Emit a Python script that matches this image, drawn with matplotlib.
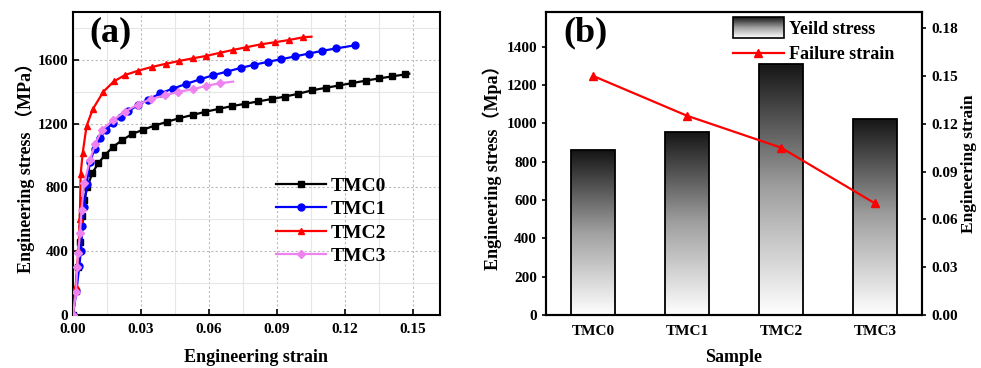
import numpy as np
import matplotlib
matplotlib.use("Agg")
import matplotlib.pyplot as plt
from matplotlib.colors import LinearSegmentedColormap
from matplotlib.legend_handler import HandlerBase
from matplotlib.image import BboxImage
from matplotlib.transforms import Bbox, TransformedBbox
from matplotlib.patches import Rectangle
from matplotlib.lines import Line2D
from matplotlib.ticker import MultipleLocator

plt.rcParams['font.family'] = ['Liberation Serif', 'Noto Sans CJK SC', 'DejaVu Sans']
plt.rcParams['font.weight'] = 'bold'

# ---- Panel (a) data: engineering stress-strain curves ----
tmc0_strain = [0, 0.0012, 0.002, 0.003, 0.004, 0.005, 0.0063, 0.0085, 0.0112, 0.0141, 0.0178, 0.0215,
               0.0259, 0.0307, 0.036, 0.0415, 0.047, 0.0528, 0.0585, 0.0643, 0.070, 0.0760, 0.0818,
               0.0877, 0.0935, 0.0995, 0.1057, 0.1115, 0.1175, 0.1233, 0.1292, 0.1350, 0.1410, 0.1468, 0.1485]
tmc0_stress = [0, 150, 300, 460, 620, 720, 800, 890, 952, 1004, 1056, 1095, 1134, 1161, 1188, 1212, 1235,
               1255, 1275, 1293, 1310, 1325, 1340, 1355, 1370, 1388, 1410, 1425, 1440, 1455, 1470, 1484,
               1497, 1510, 1514]

tmc1_strain = [0, 0.0015, 0.0028, 0.0035, 0.0042, 0.005, 0.006, 0.0075, 0.0095, 0.012, 0.0145, 0.0175,
               0.021, 0.0245, 0.0285, 0.033, 0.0385, 0.044, 0.050, 0.056, 0.062, 0.068, 0.074, 0.080,
               0.086, 0.092, 0.098, 0.104, 0.110, 0.116, 0.1245]
tmc1_stress = [0, 150, 310, 400, 560, 680, 820, 960, 1040, 1110, 1160, 1205, 1245, 1280, 1315, 1350, 1390,
               1420, 1450, 1478, 1505, 1527, 1550, 1570, 1588, 1605, 1622, 1640, 1657, 1672, 1692]

tmc2_strain = [0, 0.0012, 0.0024, 0.003, 0.0034, 0.0043, 0.006, 0.0087, 0.0134, 0.0180, 0.0229, 0.0288,
               0.0348, 0.041, 0.047, 0.0528, 0.0587, 0.0649, 0.0707, 0.0766, 0.0829, 0.0891, 0.0953,
               0.1016, 0.1053]
tmc2_stress = [0, 180, 410, 600, 885, 1018, 1186, 1290, 1401, 1465, 1505, 1533, 1556, 1576, 1594, 1610,
               1625, 1645, 1663, 1680, 1698, 1711, 1725, 1742, 1746]

tmc3_strain = [0, 0.0013, 0.0019, 0.0023, 0.0031, 0.0038, 0.0049, 0.0075, 0.0097, 0.0127, 0.0178, 0.0229,
               0.0285, 0.0345, 0.0405, 0.0465, 0.0528, 0.0587, 0.0649, 0.0707]
tmc3_stress = [0, 146, 303, 389, 514, 659, 826, 972, 1070, 1161, 1223, 1275, 1320, 1355, 1378, 1400, 1416,
               1437, 1454, 1464]

curve_names = ['TMC0', 'TMC1', 'TMC2', 'TMC3']

# ---- Panel (b) data ----
samples = ['TMC0', 'TMC1', 'TMC2', 'TMC3']
yield_stress = [860, 955, 1310, 1025]
failure_strain = [0.150, 0.125, 0.105, 0.070]

fig = plt.figure(figsize=(9.81, 3.68), dpi=100)

# ================= Panel (a) =================
ax1 = fig.add_axes([0.0744, 0.144, 0.374, 0.823])
curves = [
    (tmc0_strain, tmc0_stress, 'black', 's', slice(0, -1)),
    (tmc1_strain, tmc1_stress, '#0000ff', 'o', None),
    (tmc2_strain, tmc2_stress, '#ff0000', '^', slice(0, -1)),
    (tmc3_strain, tmc3_stress, '#ee82ee', 'D', slice(0, -1)),
]
for (x, y, c, m, me), name in zip(curves, curve_names):
    ms = 5 if m != 'D' else 4.5
    ax1.plot(x, y, color=c, marker=m, markersize=ms, linewidth=1.6, markevery=me, label=name, zorder=3)

ax1.set_xlim(0, 0.162)
ax1.set_ylim(0, 1900)
ax1.xaxis.set_minor_locator(MultipleLocator(0.015))
ax1.yaxis.set_major_locator(MultipleLocator(400))
ax1.yaxis.set_minor_locator(MultipleLocator(200))
ax1.set_xticks([0, 0.03, 0.06, 0.09, 0.12, 0.15])
ax1.set_xticklabels(['0.00', '0.03', '0.06', '0.09', '0.12', '0.15'])
ax1.grid(which='major', color='#bbbbbb', linestyle=(0, (2, 2)), linewidth=0.8, zorder=0)
ax1.grid(which='minor', color='#e6e6e6', linestyle='-', linewidth=0.8, zorder=0)
ax1.set_axisbelow(True)
ax1.tick_params(which='major', direction='in', length=4, width=1.2, labelsize=11)
ax1.tick_params(axis='x', pad=6)
ax1.tick_params(which='minor', direction='in', length=0)
for lbl in ax1.get_xticklabels() + ax1.get_yticklabels():
    lbl.set_fontweight('bold')
for s in ax1.spines.values():
    s.set_linewidth(1.5)
ax1.set_xlabel('Engineering strain', fontsize=13, fontweight='bold', labelpad=9)
ax1.set_ylabel('Engineering stress （MPa）', fontsize=13, fontweight='bold', labelpad=2)
ax1.text(0.045, 0.985, '(a)', transform=ax1.transAxes, fontsize=26, fontweight='bold', va='top', ha='left')
leg1 = ax1.legend(loc='center right', bbox_to_anchor=(0.90, 0.31), frameon=False,
                  prop={'size': 14, 'weight': 'bold'}, handlelength=2.6, labelspacing=0.3,
                  handletextpad=0.2)

# ================= Panel (b) =================
ax2 = fig.add_axes([0.5566, 0.144, 0.3833, 0.823])
xpos = np.arange(len(samples))
cmap = LinearSegmentedColormap.from_list('grad', ['#ffffff', '#a0a0a0', '#151515'])
bars = ax2.bar(xpos, yield_stress, width=0.46, facecolor='none', edgecolor='black', linewidth=1.3, zorder=3)
grad = np.linspace(0, 1, 256).reshape(-1, 1)
for b in bars:
    x0, y0 = b.get_x(), b.get_y()
    w, h = b.get_width(), b.get_height()
    im = ax2.imshow(grad, cmap=cmap, origin='lower', aspect='auto',
                    extent=[x0, x0 + w, y0, y0 + h], zorder=2)
    im.set_clip_path(b)
ax2.set_xlim(-0.5, 3.5)
ax2.set_ylim(0, 1580)
ax2.set_xticks(xpos)
ax2.set_xticklabels(samples)
ax2.set_yticks([0, 200, 400, 600, 800, 1000, 1200, 1400])
ax2.tick_params(axis='x', length=0, labelsize=11, pad=7)
ax2.tick_params(axis='y', direction='out', length=3, width=1.2, labelsize=11)
for s in ax2.spines.values():
    s.set_linewidth(1.5)
ax2.set_xlabel('Sample', fontsize=13, fontweight='bold', labelpad=8)
ax2.set_ylabel('Engineering stress（Mpa）', fontsize=13, fontweight='bold', labelpad=3)
ax2.text(0.045, 0.985, '(b)', transform=ax2.transAxes, fontsize=26, fontweight='bold', va='top', ha='left')

ax3 = ax2.twinx()
ax3.plot(xpos, failure_strain, color='#ff0000', marker='^', markersize=6, linewidth=1.6, zorder=4)
ax3.set_ylim(0, 0.19)
ax3.set_yticks([0, 0.03, 0.06, 0.09, 0.12, 0.15, 0.18])
ax3.set_yticklabels(['0.00', '0.03', '0.06', '0.09', '0.12', '0.15', '0.18'])
ax3.tick_params(axis='y', direction='out', length=3, width=1.2, labelsize=11)
ax3.set_ylabel('Engineering strain', fontsize=12.5, fontweight='bold', labelpad=2)
for s in ax3.spines.values():
    s.set_linewidth(1.5)
for lbl in ax2.get_xticklabels() + ax2.get_yticklabels() + ax3.get_yticklabels():
    lbl.set_fontweight('bold')


class GradientHandler(HandlerBase):
    def create_artists(self, legend, orig_handle, xdescent, ydescent, width, height, fontsize, trans):
        bb = Bbox.from_bounds(-xdescent, -ydescent - 0.3 * height, width, height * 1.6)
        tbb = TransformedBbox(bb, trans)
        img = BboxImage(tbb, cmap=cmap, interpolation='bicubic')
        img.set_data(np.linspace(1, 0, 64).reshape(-1, 1))
        rect = Rectangle((-xdescent, -ydescent - 0.3 * height), width, height * 1.6,
                         facecolor='none', edgecolor='black', linewidth=1.2, transform=trans)
        return [img, rect]


bar_handle = Rectangle((0, 0), 1, 1)
line_handle = Line2D([], [], color='#ff0000', marker='^', markersize=6, linewidth=1.6)
ax3.legend([bar_handle, line_handle], ['Yeild stress', 'Failure strain'],
           handler_map={Rectangle: GradientHandler()}, loc='upper right',
           bbox_to_anchor=(0.97, 1.025), frameon=False, prop={'size': 13, 'weight': 'bold'},
           handlelength=2.8, labelspacing=0.45, handletextpad=0.3)

fig.savefig('out.png', dpi=100)
